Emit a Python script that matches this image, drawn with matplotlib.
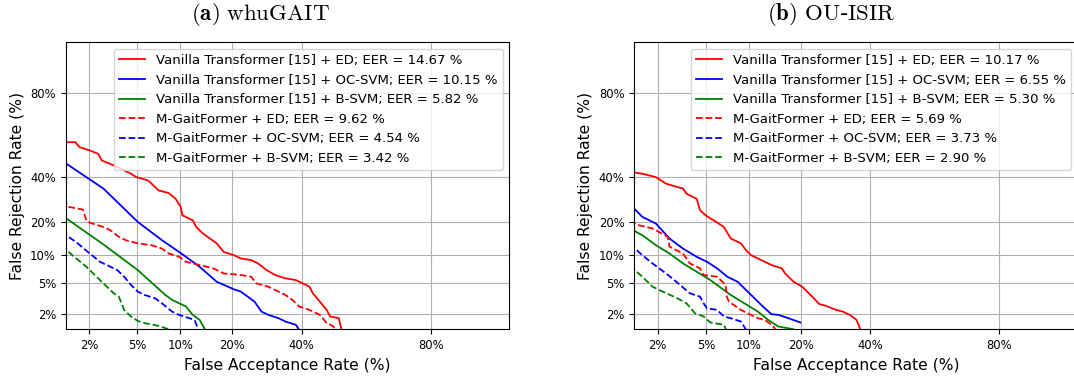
import math
import numpy as np
import matplotlib
matplotlib.use("Agg")
import matplotlib.pyplot as plt

# ---------------- data (percent: FAR, FRR) ----------------
labels = [
    "Vanilla Transformer [15] + ED; EER = {} %",
    "Vanilla Transformer [15] + OC-SVM; EER = {} %",
    "Vanilla Transformer [15] + B-SVM; EER = {} %",
    "M-GaitFormer + ED; EER = {} %",
    "M-GaitFormer + OC-SVM; EER = {} %",
    "M-GaitFormer + B-SVM; EER = {} %",
]
eer_whu = ["14.67", "10.15", "5.82", "9.62", "4.54", "3.42"]
eer_ou = ["10.17", "6.55", "5.30", "5.69", "3.73", "2.90"]

# whuGAIT
whu_vt_ed_far = [1.10, 1.50, 1.64, 2.03, 2.41, 2.58, 3.26, 3.95, 4.47, 4.90, 6.02, 6.56, 7.13, 8.40, 9.33, 10.08,
                 10.33, 12.0, 12.59, 13.83, 15.15, 16.55, 18.06, 20.44, 22.13, 24.81, 26.70, 29.12, 31.67, 34.83,
                 38.13, 40.36, 42.62, 43.76, 46.10, 48.40, 49.56, 52.47, 53.63]
whu_vt_ed_frr = [57.85, 57.85, 55.3, 53.6, 51.8, 48.4, 45.8, 43.2, 41.5, 39.8, 38.1, 35.7, 33.3, 32.0, 29.4, 25.8,
                 22.4, 20.5, 18.1, 15.9, 14.4, 13.0, 10.8, 10.0, 9.28, 8.93, 8.24, 7.0, 6.17, 5.66,
                 5.41, 4.95, 4.52, 3.75, 2.94, 2.29, 1.86, 1.76, 1.10]
whu_vt_oc_far = [1.10, 2.67, 5.04, 7.55, 9.82, 10.88, 13.20, 16.55, 20.44, 22.13, 25.74, 27.66, 29.63, 32.71,
                 34.83, 38.13, 39.78]
whu_vt_oc_frr = [48.5, 34.1, 19.9, 13.9, 10.8, 9.65, 7.60, 5.17, 4.20, 3.94, 2.94, 2.17, 1.96, 1.76,
                 1.58, 1.42, 1.10]
whu_vt_bs_far = [1.10, 2.67, 5.04, 7.96, 8.85, 10.88, 12.0, 13.20, 14.49]
whu_vt_bs_frr = [22.6, 12.7, 7.0, 3.58, 3.10, 2.54, 1.96, 1.67, 1.10]
whu_mg_ed_far = [1.10, 1.22, 1.31, 1.76, 1.89, 2.03, 2.67, 3.05, 3.58, 4.07, 5.04, 6.37, 7.55, 8.40, 9.82, 10.88,
                 13.20, 15.85, 18.06, 22.13, 24.81, 26.21, 29.63, 31.67, 34.83, 37.03, 39.24, 42.62, 46.10,
                 48.40, 50.72, 51.28]
whu_mg_ed_frr = [28.0, 27.7, 25.8, 24.7, 20.5, 19.6, 18.1, 17.0, 14.9, 13.9, 13.0, 12.5, 11.6, 10.4, 9.65, 8.58,
                 7.93, 7.30, 6.43, 6.17, 5.90, 4.95, 4.52, 4.12, 3.58, 3.10, 2.54, 2.29, 1.96,
                 1.50, 1.34, 1.10]
whu_mg_oc_far = [1.10, 1.52, 2.03, 2.49, 3.05, 3.48, 3.95, 4.47, 5.04, 5.67, 6.75, 7.55, 8.85, 9.82, 11.43,
                 12.28, 13.20]
whu_mg_oc_frr = [16.5, 13.4, 10.4, 8.58, 7.60, 7.00, 5.90, 4.74, 3.94, 3.58, 3.25, 2.80, 2.17, 1.96, 1.76,
                 1.67, 1.10]
whu_mg_bs_far = [1.10, 1.41, 1.89, 2.49, 3.26, 3.58, 3.95, 4.47, 5.04, 5.67, 7.13, 8.40, 9.00]
whu_mg_bs_frr = [12.4, 10.0, 7.60, 5.41, 3.75, 3.41, 2.29, 1.86, 1.61, 1.50, 1.37, 1.22, 1.10]

# OU-ISIR
ou_vt_ed_far = [1.10, 1.45, 1.93, 2.37, 3.30, 3.52, 4.24, 4.51, 5.09, 5.72, 6.78, 7.57, 8.88, 9.60, 10.35, 12.0,
                13.81, 15.83, 16.51, 18.36, 20.34, 22.87, 24.63, 26.50, 29.43, 31.42, 33.51, 35.61, 37.25]
ou_vt_ed_frr = [42.5, 41.5, 39.8, 36.5, 34.1, 31.7, 29.4, 24.4, 22.0, 20.5, 18.1, 14.4, 13.0, 11.2, 10.0, 8.93,
                7.93, 7.30, 6.43, 5.17, 4.52, 3.41, 2.75, 2.59, 2.29, 2.17, 1.96, 1.67, 1.10]
ou_vt_oc_far = [1.10, 1.45, 1.93, 2.54, 3.30, 4.24, 5.09, 6.06, 7.17, 8.43, 9.84, 11.43, 12.59, 13.81, 15.12,
                17.23, 19.93]
ou_vt_oc_frr = [27.0, 21.8, 19.3, 14.4, 11.6, 9.65, 8.58, 7.30, 5.90, 5.17, 3.94, 2.94, 2.41, 2.00, 1.96,
                1.76, 1.53]
ou_vt_bs_far = [1.10, 1.45, 1.93, 2.54, 3.30, 4.24, 5.40, 6.78, 7.57, 9.36, 11.43, 13.18, 15.12, 18.36, 19.0]
ou_vt_bs_frr = [17.6, 15.4, 12.5, 10.4, 8.24, 6.72, 5.41, 4.12, 3.58, 2.80, 2.17, 1.67, 1.34, 1.22, 1.10]
ou_mg_ed_far = [1.10, 1.35, 1.80, 2.45, 2.54, 3.30, 3.75, 4.51, 4.80, 6.06, 6.97, 7.10, 7.37, 8.88, 9.84,
                11.43, 12.59, 13.81, 15.12]
ou_mg_ed_frr = [20.5, 18.7, 17.6, 14.9, 12.1, 10.4, 8.24, 7.30, 6.17, 5.90, 4.74, 3.41, 2.94, 2.29, 2.06,
                1.76, 1.67, 1.42, 1.10]
ou_mg_oc_far = [1.10, 1.45, 1.80, 2.37, 2.90, 3.75, 4.51, 4.80, 5.09, 6.06, 6.78, 7.57, 8.88, 9.84]
ou_mg_oc_frr = [12.9, 10.0, 8.24, 6.43, 5.17, 3.75, 3.41, 2.80, 2.41, 2.29, 1.86, 1.76, 1.58, 1.10]
ou_mg_bs_far = [1.10, 1.45, 1.80, 2.22, 2.90, 3.52, 4.12, 4.80, 5.40, 6.78, 7.17]
ou_mg_bs_frr = [7.8, 5.90, 4.52, 3.94, 3.30, 2.80, 2.06, 1.86, 1.53, 1.42, 1.10]

tick_vals = [2, 5, 10, 20, 40, 80]
tick_labels = ["2%", "5%", "10%", "20%", "40%", "80%"]
axis_lim = (1.218, 93.41)

colors = ["red", "blue", "green", "red", "blue", "green"]
styles = ["-", "-", "-", "--", "--", "--"]

# ---------------- normal deviate scale ----------------
_a = [-3.969683028665376e+01, 2.209460984245205e+02, -2.759285104469687e+02,
      1.383577518672690e+02, -3.066479806614716e+01, 2.506628277459239e+00]
_b = [-5.447609879822406e+01, 1.615858368580409e+02, -1.556989798598866e+02,
      6.680131188771972e+01, -1.328068155288572e+01]
_c = [-7.784894002430293e-03, -3.223964580411365e-01, -2.400758277161838e+00,
      -2.549732539343734e+00, 4.374664141464968e+00, 2.938163982698783e+00]
_d = [7.784695709041462e-03, 3.224671290700398e-01, 2.445134137142996e+00,
      3.754408661907416e+00]


def _ppf(p):
    p = np.asarray(p, dtype=float)
    shape = p.shape
    p = np.clip(np.atleast_1d(p).ravel(), 1e-12, 1 - 1e-12)
    out = np.empty_like(p)
    plow = 0.02425
    lo = p < plow
    hi = p > 1 - plow
    mid = ~(lo | hi)
    q = np.sqrt(-2 * np.log(p[lo]))
    out[lo] = (((((_c[0]*q+_c[1])*q+_c[2])*q+_c[3])*q+_c[4])*q+_c[5]) / \
              ((((_d[0]*q+_d[1])*q+_d[2])*q+_d[3])*q+1)
    q = p[mid] - 0.5
    r = q * q
    out[mid] = (((((_a[0]*r+_a[1])*r+_a[2])*r+_a[3])*r+_a[4])*r+_a[5])*q / \
               (((((_b[0]*r+_b[1])*r+_b[2])*r+_b[3])*r+_b[4])*r+1)
    q = np.sqrt(-2 * np.log(1 - p[hi]))
    out[hi] = -(((((_c[0]*q+_c[1])*q+_c[2])*q+_c[3])*q+_c[4])*q+_c[5]) / \
               ((((_d[0]*q+_d[1])*q+_d[2])*q+_d[3])*q+1)
    return out.reshape(shape)


_erf = np.vectorize(math.erf)


def fwd(x):
    return _ppf(np.asarray(x, dtype=float) / 100.0)


def inv(y):
    y = np.asarray(y, dtype=float)
    return 100.0 * 0.5 * (1.0 + _erf(y / math.sqrt(2.0)))


# ---------------- plot ----------------
plt.rcParams["mathtext.fontset"] = "cm"
fig = plt.figure(figsize=(10.74, 3.79), dpi=100)

panels = [
    ([0.0612, 0.1311, 0.4130, 0.7575], eer_whu,
     [(whu_vt_ed_far, whu_vt_ed_frr), (whu_vt_oc_far, whu_vt_oc_frr), (whu_vt_bs_far, whu_vt_bs_frr),
      (whu_mg_ed_far, whu_mg_ed_frr), (whu_mg_oc_far, whu_mg_oc_frr), (whu_mg_bs_far, whu_mg_bs_frr)],
     r"$\mathbf{(a)}\ \mathrm{whuGAIT}$", 0.242),
    ([0.5906, 0.1311, 0.4130, 0.7575], eer_ou,
     [(ou_vt_ed_far, ou_vt_ed_frr), (ou_vt_oc_far, ou_vt_oc_frr), (ou_vt_bs_far, ou_vt_bs_frr),
      (ou_mg_ed_far, ou_mg_ed_frr), (ou_mg_oc_far, ou_mg_oc_frr), (ou_mg_bs_far, ou_mg_bs_frr)],
     r"$\mathbf{(b)}\ \mathrm{OU}$-$\mathrm{ISIR}$", 0.774),
]

for rect, eers, series, title, tx in panels:
    ax = fig.add_axes(rect)
    ax.set_xscale("function", functions=(fwd, inv))
    ax.set_yscale("function", functions=(fwd, inv))
    for (far, frr), lab, e, c, ls in zip(series, labels, eers, colors, styles):
        ax.plot(far, frr, color=c, linestyle=ls, linewidth=1.3, label=lab.format(e))
    ax.set_xlim(*axis_lim)
    ax.set_ylim(*axis_lim)
    ax.set_xticks(tick_vals)
    ax.set_xticklabels(tick_labels)
    ax.set_yticks(tick_vals)
    ax.set_yticklabels(tick_labels)
    ax.minorticks_off()
    ax.tick_params(labelsize=8.4)
    ax.grid(True)
    ax.set_xlabel("False Acceptance Rate (%)", fontsize=11.2)
    ax.set_ylabel("False Rejection Rate (%)", fontsize=11.2)
    ax.legend(loc="upper right", fontsize=9.5)
    fig.text(tx, 0.962, title, ha="center", va="center", fontsize=16.5)

fig.savefig("out.png", dpi=100)
